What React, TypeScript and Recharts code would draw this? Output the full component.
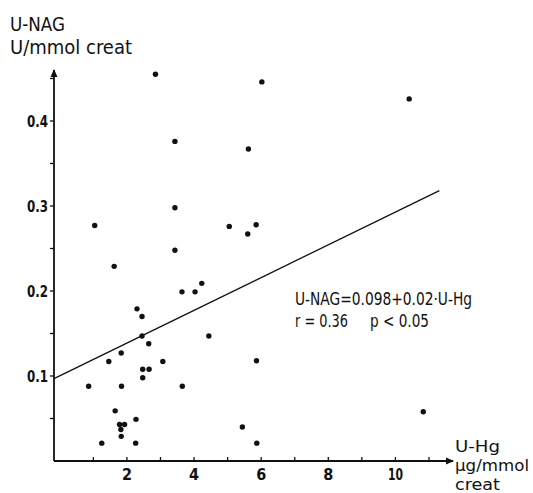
import React from 'react';
import { ScatterChart, Scatter, XAxis, YAxis, ReferenceLine, ReferenceDot, Customized } from 'recharts';

// U-Hg (µg/mmol creat) values of the points
const uHg = [
  2.85, 3.43, 3.43, 1.04, 3.43, 6.02, 5.62, 5.05, 5.85, 5.6, 10.41,
  1.62, 3.64, 2.3, 2.45, 2.45, 2.65, 1.83, 1.46, 3.07, 2.47, 2.66,
  2.47, 0.86, 1.84, 3.65, 1.65, 2.27, 1.78, 1.93, 1.82, 1.83, 1.25,
  2.26, 4.03, 4.23, 4.44, 5.86, 5.44, 5.87, 10.83,
];
// U-NAG (U/mmol creat) values of the points
const uNag = [
  0.455, 0.376, 0.298, 0.277, 0.248, 0.446, 0.367, 0.276, 0.278, 0.267, 0.426,
  0.229, 0.199, 0.179, 0.17, 0.147, 0.138, 0.127, 0.117, 0.117, 0.108, 0.108,
  0.098, 0.088, 0.088, 0.088, 0.059, 0.049, 0.043, 0.043, 0.037, 0.029, 0.021,
  0.021, 0.199, 0.209, 0.147, 0.118, 0.04, 0.021, 0.058,
];

const xDomain = [-0.173, 11.716];
const yDomain = [0, 0.46];
const xTicks = [1, 2, 3, 4, 5, 6, 7, 8, 9, 10, 11];
const xTickLabels = ['', '2', '', '4', '', '6', '', '8', '', '10', ''];
const yTicks = [0.05, 0.1, 0.15, 0.2, 0.25, 0.3, 0.35, 0.4, 0.45];
const yTickLabels = ['', '0.1', '', '0.2', '', '0.3', '', '0.4', ''];

// regression line U-NAG = 0.098 + 0.02 * U-Hg, drawn from the y axis
const regX = [-0.173, 11.31];
const regY = [0.097, 0.318];

const points = uHg.map((x, i) => ({ x, y: uNag[i] }));

const FONT = '"DejaVu Sans Condensed", "Liberation Sans Narrow", "DejaVu Sans", sans-serif';
const INK = '#111';

const XTick = (props: any) => {
  const { x, y, payload } = props;
  const idx = xTicks.indexOf(payload.value);
  const label = xTickLabels[idx] || '';
  return (
    <g>
      <line x1={x} x2={x} y1={y} y2={y - 4} stroke={INK} strokeWidth={1.3} />
      {label && (
        <text
          x={x}
          y={y + 19}
          textAnchor="middle"
          fontSize={16}
          fontWeight={600}
          fontFamily={FONT}
          fill={INK}
          textLength={label.length > 1 ? 15 : undefined}
          lengthAdjust="spacingAndGlyphs"
        >
          {label}
        </text>
      )}
    </g>
  );
};

const YTick = (props: any) => {
  const { x, y, payload } = props;
  const idx = yTicks.findIndex((t) => Math.abs(t - payload.value) < 1e-9);
  const label = yTickLabels[idx] || '';
  return (
    <g>
      <line x1={x - 4} x2={x} y1={y} y2={y} stroke={INK} strokeWidth={1.3} />
      {label && (
        <text
          x={x - 6}
          y={y + 6}
          textAnchor="end"
          fontSize={16}
          fontWeight={600}
          fontFamily={FONT}
          fill={INK}
          textLength={21}
          lengthAdjust="spacingAndGlyphs"
        >
          {label}
        </text>
      )}
    </g>
  );
};

const Dot = (props: any) => <circle cx={props.cx} cy={props.cy} r={2.7} fill={INK} />;

const ArrowRight = (props: any) => (
  <path d={`M${props.cx + 1},${props.cy} l-8,-3.5 l0,7 z`} fill={INK} />
);
const ArrowUp = (props: any) => (
  <path d={`M${props.cx},${props.cy - 1} l-3.5,8 l7,0 z`} fill={INK} />
);

const Labels = () => (
  <g fontFamily={FONT} fill={INK}>
    <text x={2} y={22.5} fontSize={19} textLength={55} lengthAdjust="spacingAndGlyphs">U-NAG</text>
    <text x={2} y={46} fontSize={19} textLength={122} lengthAdjust="spacingAndGlyphs">U/mmol creat</text>
    <text x={447} y={444} fontSize={15} textLength={45} lengthAdjust="spacingAndGlyphs">U-Hg</text>
    <text x={447} y={463} fontSize={15} textLength={74} lengthAdjust="spacingAndGlyphs">µg/mmol</text>
    <text x={447} y={481.5} fontSize={15} textLength={45} lengthAdjust="spacingAndGlyphs">creat</text>
    <text x={287} y={297} fontSize={17} textLength={177} lengthAdjust="spacingAndGlyphs">U-NAG=0.098+0.02·U-Hg</text>
    <text x={287} y={319} fontSize={17} textLength={53} lengthAdjust="spacingAndGlyphs">r = 0.36</text>
    <text x={362} y={319} fontSize={17} textLength={59} lengthAdjust="spacingAndGlyphs">p &lt; 0.05</text>
  </g>
);

export default function App() {
  return (
    <div style={{ position: 'fixed', left: 8, top: 8, width: 525, height: 485, background: '#fff' }}>
      <ScatterChart width={525} height={485} margin={{ top: 62, right: 80, bottom: 0, left: 0 }}>
        <XAxis
          type="number"
          dataKey="x"
          domain={xDomain}
          ticks={xTicks}
          allowDataOverflow
          height={32}
          tickSize={0}
          tickMargin={0}
          tickLine={false}
          tick={<XTick />}
          interval={0}
          axisLine={{ stroke: INK, strokeWidth: 1.8 }}
        />
        <YAxis
          type="number"
          dataKey="y"
          domain={yDomain}
          ticks={yTicks}
          allowDataOverflow
          width={46}
          tickSize={0}
          tickMargin={0}
          tickLine={false}
          tick={<YTick />}
          interval={0}
          axisLine={{ stroke: INK, strokeWidth: 1.8 }}
        />
        <ReferenceLine
          segment={[
            { x: regX[0], y: regY[0] },
            { x: regX[1], y: regY[1] },
          ]}
          stroke={INK}
          strokeWidth={1.3}
          ifOverflow="visible"
        />
        <Scatter data={points} shape={<Dot />} isAnimationActive={false} />
        <ReferenceDot x={xDomain[1]} y={yDomain[0]} shape={<ArrowRight />} ifOverflow="visible" />
        <ReferenceDot x={xDomain[0]} y={yDomain[1]} shape={<ArrowUp />} ifOverflow="visible" />
        <Customized component={<Labels />} />
      </ScatterChart>
    </div>
  );
}
